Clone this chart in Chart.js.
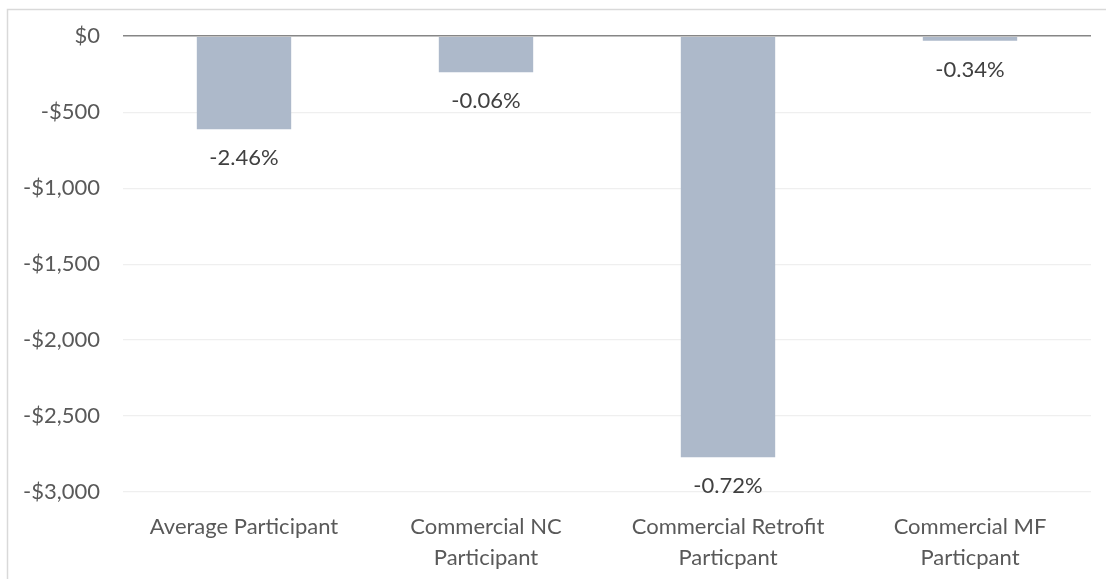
<!DOCTYPE html>
<html>
<head>
<meta charset="utf-8">
<script src="https://cdn.jsdelivr.net/npm/chart.js@4/dist/chart.umd.min.js"></script>
<style>
  html, body { margin: 0; padding: 0; background: #fff; }
  #wrap { width: 1106px; height: 579px; }
</style>
</head>
<body>
<div id="wrap"><canvas id="canvas-chart"></canvas></div>
<script>
'use strict'

let categories = [
    "Average Participant",
    ["Commercial NC", "Participant"],
    ["Commercial Retrofit", "Particpant"],
    ["Commercial MF", "Particpant"],
];
let savings = [-612, -238, -2772, -30];
let percentLabels = ["-2.46%", "-0.06%", "-0.72%", "-0.34%"];
let yTicks = [0, -500, -1000, -1500, -2000, -2500, -3000];

let fontFamily = "Lato, 'Open Sans', sans-serif";

function money(v) {
    let s = "$" + Math.abs(v).toLocaleString("en-US");
    return v < 0 ? "-" + s : s;
}

// frame around the chart, like the excel chart box
let framePlugin = {
    id: "frame",
    beforeDraw(chart) {
        let ctx = chart.ctx;
        ctx.save();
        ctx.strokeStyle = "#d9d9d9";
        ctx.lineWidth = 1.5;
        ctx.strokeRect(7.5, 9.5, 1120, 600);
        ctx.restore();
    },
};

// percent labels under each bar
let barLabels = {
    id: "barLabels",
    afterDatasetsDraw(chart) {
        let ctx = chart.ctx;
        let meta = chart.getDatasetMeta(0);
        ctx.save();
        ctx.font = "22px " + fontFamily;
        ctx.fillStyle = "#404040";
        ctx.textAlign = "center";
        ctx.textBaseline = "middle";
        meta.data.forEach(function (bar, i) {
            ctx.fillText(percentLabels[i], bar.x, bar.y + 29);
        });
        ctx.restore();
    },
};

let chart = document.getElementById("canvas-chart").getContext("2d");

let chart1 = new Chart(chart, {
    type: "bar",
    data: {
        labels: categories,
        datasets: [
            {
                label: "Savings",
                data: savings,
                backgroundColor: "#adb9ca",
                barPercentage: 0.39,
                categoryPercentage: 1,
            },
        ],
    },
    options: {
        responsive: true,
        maintainAspectRatio: false,
        animation: false,
        layout: { padding: { top: 34, right: 15, left: 0, bottom: 0 } },
        plugins: {
            legend: { display: false },
            tooltip: { enabled: false },
        },
        scales: {
            x: {
                grid: { display: false },
                border: { display: false },
                ticks: {
                    color: "#595959",
                    font: { family: fontFamily, size: 22, lineHeight: 1.41 },
                    maxRotation: 0,
                    padding: 11,
                },
                afterFit(scale) {
                    scale.height = 87;
                },
            },
            y: {
                min: -3000,
                max: 0,
                afterBuildTicks(scale) {
                    scale.ticks = yTicks.map(function (v) { return { value: v }; });
                },
                grid: {
                    drawTicks: false,
                    color: function (c) {
                        return c.tick && c.tick.value === 0 ? "#868686" : "#efefef";
                    },
                    lineWidth: function (c) {
                        return c.tick && c.tick.value === 0 ? 1.5 : 1.2;
                    },
                },
                border: { display: false },
                ticks: {
                    color: "#595959",
                    font: { family: fontFamily, size: 22 },
                    padding: 23,
                    callback: function (v) { return money(v); },
                },
                afterFit(scale) {
                    scale.width = 123;
                },
            },
        },
    },
    plugins: [framePlugin, barLabels],
});
</script>
</body>
</html>
